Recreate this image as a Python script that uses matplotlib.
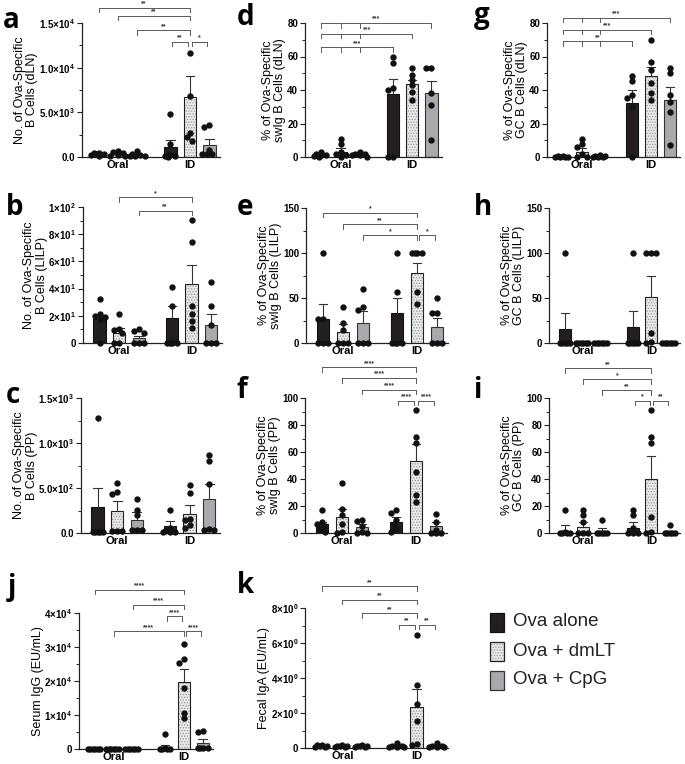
import numpy as np
import matplotlib
matplotlib.use('Agg')
import matplotlib.pyplot as plt
from matplotlib.patches import Rectangle

plt.rcParams['font.family'] = ['Liberation Sans', 'DejaVu Sans']
plt.rcParams['mathtext.fontset'] = 'custom'
plt.rcParams['mathtext.rm'] = 'Liberation Sans'
plt.rcParams['mathtext.bf'] = 'Liberation Sans:bold'
plt.rcParams['mathtext.default'] = 'bf'
plt.rcParams['hatch.linewidth'] = 0.6

# ---------------- data ----------------
groups = ['Oral', 'ID']
treatments = ['Ova alone', 'Ova + dmLT', 'Ova + CpG']

a_mean = [300, 350, 250, 1100, 6700, 1300]
a_sem = [100, 120, 110, 800, 2400, 750]
a_dots = [[100, 300, 500, 400, 200, 300], [100, 600, 400, 200, 700, 100],
          [100, 200, 700, 100, 300, 100], [4800, 1500, 200, 100, 50, 100],
          [11600, 6800, 2700, 1800, 2200], [3600, 3400, 800, 300, 300, 300]]

b_mean = [17.5, 7.5, 3.5, 18.5, 43.5, 13.5]
b_sem = [3.0, 3.5, 2.0, 8.5, 13.5, 8.0]
b_dots = [[32, 21.5, 20, 19, 18, 0], [21.5, 10, 9.5, 7, 0, 0], [10, 8.5, 7.5, 0, 0, 0],
          [41, 27, 0, 0, 0, 0], [90.5, 74, 27, 21, 16, 11], [44.5, 27.5, 13.5, 0, 0, 0]]

c_mean = [285, 240, 140, 75, 215, 375]
c_sem = [215, 115, 90, 55, 95, 170]
c_dots = [[1280, 10, 10, 10, 10, 10], [560, 460, 430, 20, 20, 20], [380, 255, 200, 30, 30, 30],
          [260, 60, 20, 10, 10, 10], [530, 440, 160, 140, 90, 60], [865, 800, 550, 40, 30, 30]]

d_mean = [1.0, 3.0, 1.5, 37.5, 43.5, 38.5]
d_sem = [0.5, 2.5, 0.5, 9.0, 2.5, 7.0]
d_dots = [[0, 1, 2, 3, 1, 0.5], [11, 8, 3, 2, 0, 1], [0, 1, 2, 3, 2, 1],
          [60, 56, 41, 40, 0, 0], [53, 49, 46, 43, 39, 34], [53, 53, 38, 31, 10]]

e_mean = [27, 12, 22, 33.5, 78, 18]
e_sem = [16, 9, 14, 16.5, 11, 10]
e_dots = [[100, 27, 27, 0, 0, 0], [40, 22, 14, 0, 0, 0], [60, 40, 37, 0, 0, 0],
          [100, 57, 0, 0, 0, 0], [100, 100, 100, 100, 57, 43], [50, 33, 33, 0, 0, 0]]

f_mean = [6.5, 12, 4.5, 8.5, 53.5, 5.5]
f_sem = [1.5, 6, 2, 3.5, 12.5, 3]
f_dots = [[17, 8, 7, 5, 3, 1], [37, 18, 13, 7, 1, 0], [10, 9, 5, 1, 0, 0],
          [17, 15, 10, 7, 3, 1], [91, 71, 67, 45, 28, 23], [14, 8, 2, 0, 0, 0]]

g_mean = [0.3, 3.0, 0.5, 32.5, 48.5, 34.0]
g_sem = [0.2, 2.5, 0.2, 7.5, 5.5, 7.5]
g_dots = [[0, 0, 0.3, 0.5, 0, 0.2], [11, 8, 6, 2, 0, 0], [0, 0.5, 0, 1, 0.3, 0],
          [45.5, 48.5, 37, 35, 30, 0], [70, 57, 52, 44, 38, 34], [53, 50, 37, 33, 27, 7]]

h_mean = [16, 0, 0, 18, 51, 0]
h_sem = [17.5, 0, 0, 17.5, 23, 0]
h_dots = [[100, 0, 0, 0, 0, 0], [0, 0, 0, 0, 0, 0], [0, 0, 0, 0, 0, 0],
          [100, 0, 0, 0, 0, 0], [100, 100, 100, 11, 1, 0], [0, 0, 0, 0, 0, 0]]

i_mean = [1, 4.5, 1.5, 4, 40, 0.5]
i_sem = [5, 3.5, 2, 4, 17, 0.5]
i_dots = [[17, 1, 0, 0, 0, 0], [17, 13, 8, 0, 0, 0], [10, 0, 0, 0, 0, 0],
          [17, 13, 4, 0, 0, 0], [91, 71, 67, 12, 1, 0], [6, 0, 0, 0, 0, 0]]

j_mean = [50, 50, 50, 500, 19800, 1700]
j_sem = [20, 20, 20, 800, 3800, 1200]
j_dots = [[50, 50, 50, 50, 50, 50], [50, 50, 50, 50, 50, 50], [60, 60, 60, 60, 60, 60],
          [4300, 200, 100, 100, 100, 100], [30800, 26400, 25300, 17800, 10500, 9100],
          [5400, 5100, 200, 200, 200, 200]]

k_mean = [0.1, 0.1, 0.08, 0.1, 2.35, 0.1]
k_sem = [0.03, 0.03, 0.03, 0.05, 1.05, 0.05]
k_dots = [[0.2, 0.1, 0.1, 0.05, 0.05, 0.15], [0.15, 0.1, 0.05, 0.05, 0.1, 0.1],
          [0.1, 0.1, 0.05, 0.05, 0.15, 0.1], [0.3, 0.1, 0.05, 0.05, 0.1, 0.05],
          [6.45, 3.6, 2.5, 1.55, 0.15, 0.25], [0.3, 0.1, 0.05, 0.05, 0.1, 0.05]]

# y tick values and labels
a_ticks = [0, 5000, 10000, 15000]
a_tlab = ['0.0', '5.0×10$^{3}$', '1.0×10$^{4}$', '1.5×10$^{4}$']
b_ticks = [0, 20, 40, 60, 80, 100]
b_tlab = ['0', '2×10$^{1}$', '4×10$^{1}$', '6×10$^{1}$', '8×10$^{1}$', '1×10$^{2}$']
c_ticks = [0, 500, 1000, 1500]
c_tlab = ['0.0', '5.0×10$^{2}$', '1.0×10$^{3}$', '1.5×10$^{3}$']
pct80_ticks = [0, 20, 40, 60, 80]
pct150_ticks = [0, 50, 100, 150]
pct100_ticks = [0, 20, 40, 60, 80, 100]
j_ticks = [0, 10000, 20000, 30000, 40000]
j_tlab = ['0', '1×10$^{4}$', '2×10$^{4}$', '3×10$^{4}$', '4×10$^{4}$']
k_ticks = [0, 2, 4, 6, 8]
k_tlab = ['0', '2×10$^{0}$', '4×10$^{0}$', '6×10$^{0}$', '8×10$^{0}$']

# significance comparisons (bar i, bar j, label)
a_sig = [(0, 4, '**'), (1, 4, '**'), (2, 4, '**'), (3, 4, '**'), (4, 5, '*')]
b_sig = [(1, 4, '*'), (2, 4, '**')]
d_sig = [(0, 5, '***'), (0, 4, '***'), (0, 3, '***')]
e_sig = [(0, 4, '*'), (1, 4, '**'), (2, 4, '*'), (4, 5, '*')]
f_sig = [(0, 4, '****'), (1, 4, '****'), (2, 4, '****'), (3, 4, '****'), (4, 5, '****')]
g_sig = [(0, 5, '***'), (0, 4, '***'), (0, 3, '**')]
i_sig = [(0, 4, '**'), (1, 4, '*'), (2, 4, '**'), (3, 4, '*'), (4, 5, '**')]
j_sig = [(0, 4, '****'), (2, 4, '****'), (3, 4, '****'), (1, 4, '****'), (4, 5, '****')]
k_sig = [(0, 4, '**'), (1, 4, '**'), (2, 4, '**'), (3, 4, '**'), (4, 5, '**')]

# ---------------- layout ----------------
W, H = 685, 764
fig = plt.figure(figsize=(W / 100, H / 100), dpi=100)

XPOS = [0, 1, 2, 3.7, 4.7, 5.7]
XLIM = (-0.85, 6.25)
BW = 0.64

panels = [
    ('a', (82, 23, 220, 157), a_mean, a_sem, a_dots, a_ticks, a_tlab,
     'No. of Ova-Specific\nB Cells (dLN)', a_sig, [16700, 15800, 14200, 12900, 12900], False),
    ('d', (305, 23, 442, 157), d_mean, d_sem, d_dots, pct80_ticks, None,
     '% of Ova-Specific\nswIg B Cells (dLN)', d_sig, [80, 73.6, 65.6], True),
    ('g', (547, 23, 680, 157), g_mean, g_sem, g_dots, pct80_ticks, None,
     '% of Ova-Specific\nGC B Cells (dLN)', g_sig, [83, 76, 69], True),
    ('b', (83, 207, 222, 343), b_mean, b_sem, b_dots, b_ticks, b_tlab,
     'No. of Ova-Specific\nB Cells (LILP)', b_sig, [107, 97.3], False),
    ('e', (306, 208, 448, 343), e_mean, e_sem, e_dots, pct150_ticks, None,
     '% of Ova-Specific\nswIg B Cells (LILP)', e_sig, [145, 132, 119.5, 119.5], False),
    ('h', (549, 208, 680, 343), h_mean, h_sem, h_dots, pct150_ticks, None,
     '% of Ova-Specific\nGC B Cells (LILP)', [], [], False),
    ('c', (81, 398, 220, 533), c_mean, c_sem, c_dots, c_ticks, c_tlab,
     'No. of Ova-Specific\nB Cells (PP)', [], [], False),
    ('f', (305, 398, 447, 533), f_mean, f_sem, f_dots, pct100_ticks, None,
     '% of Ova-Specific\nswIg B Cells (PP)', f_sig, [122.7, 114.8, 106, 98, 98], False),
    ('i', (549, 398, 680, 533), i_mean, i_sem, i_dots, pct100_ticks, None,
     '% of Ova-Specific\nGC B Cells (PP)', i_sig, [122, 114, 105.7, 98, 98], False),
    ('j', (79, 613, 213, 749), j_mean, j_sem, j_dots, j_ticks, j_tlab,
     'Serum IgG (EU/mL)', j_sig, [46900, 42500, 39000, 34600, 34600], False),
    ('k', (305, 608, 448, 748), k_mean, k_sem, k_dots, k_ticks, k_tlab,
     'Fecal IgA (EU/mL)', k_sig, [9.24, 8.48, 7.71, 7.05, 7.05], False),
]

letters = {'a': (3, 28), 'd': (237, 25), 'g': (474, 23), 'b': (6, 215), 'e': (237, 215),
           'h': (474, 215), 'c': (6, 403), 'f': (237, 398), 'i': (474, 398),
           'j': (8, 595), 'k': (237, 593)}

FACE = ['#231f20', '#e9e9e9', '#a7a9ac']
EDGE = ['#111111', '#222222', '#333333']
LINEC = '#5a5a5a'


def swarm(vals, ypx, xpx, step=2.5, thr=4.5):
    order = sorted(range(len(vals)), key=lambda k: -vals[k])
    placed = []
    res = [0.0] * len(vals)
    cands = [0, -1, 1, -2, 2, -3, 3]
    for k in order:
        y = vals[k] * ypx
        best, bestd = 0.0, -1.0
        chosen = None
        for c in cands:
            x = c * step
            md = min([np.hypot(x - px, y - py) for px, py in placed] + [1e9])
            if md >= thr:
                chosen = x
                break
            if md > bestd:
                best, bestd = x, md
        if chosen is None:
            chosen = best
        placed.append((chosen, y))
        res[k] = chosen / xpx
    return res


def draw_bar(ax, x, h, t):
    if t == 1:
        ax.bar(x, h, BW, color=FACE[1], edgecolor='#9a9a9a', hatch='......', linewidth=0, zorder=2)
        ax.bar(x, h, BW, color='none', edgecolor=EDGE[1], linewidth=0.8, zorder=2.1)
    else:
        ax.bar(x, h, BW, color=FACE[t], edgecolor=EDGE[t], linewidth=0.8, zorder=2)


for key, (l, t, r, b), mean, sem, dots, ticks, tlab, ylabel, sig, levels, grouped in panels:
    ax = fig.add_axes([l / W, 1 - b / H, (r - l) / W, (b - t) / H])
    ymax = ticks[-1]
    ax.set_xlim(*XLIM)
    ax.set_ylim(0, ymax)
    xpx = (r - l) / (XLIM[1] - XLIM[0])
    ypx = (b - t) / ymax
    for s in ['top', 'right']:
        ax.spines[s].set_visible(False)
    for s in ['left', 'bottom']:
        ax.spines[s].set_linewidth(0.9)
        ax.spines[s].set_color('#222222')
    for n in range(6):
        tt = n % 3
        draw_bar(ax, XPOS[n], mean[n], tt)
        top = mean[n] + sem[n]
        ax.plot([XPOS[n], XPOS[n]], [mean[n], top], color='#333333', lw=0.8, zorder=2.5,
                solid_capstyle='butt')
        ax.plot([XPOS[n] - 0.22, XPOS[n] + 0.22], [top, top], color='#333333', lw=0.8, zorder=2.5)
        offs = swarm(dots[n], ypx, xpx)
        ax.scatter([XPOS[n] + o for o in offs], dots[n], s=21, color='#111111',
                   zorder=4, clip_on=False, linewidths=0)
    ax.set_yticks(ticks)
    if tlab is not None:
        ax.set_yticklabels(tlab)
    else:
        ax.set_yticklabels([str(v) for v in ticks])
    step = ticks[1] - ticks[0]
    ax.set_yticks([v + step / 2 for v in ticks[:-1]], minor=True)
    ax.tick_params(axis='y', which='major', length=3.5, width=0.8, labelsize=7, pad=1.5,
                   color='#222222')
    ax.tick_params(axis='y', which='minor', length=2, width=0.7, color='#222222')
    for lab in ax.get_yticklabels():
        lab.set_fontweight('bold')
    ax.set_xticks([1, 4.7])
    ax.set_xticklabels(groups, fontsize=8, fontweight='bold')
    ax.tick_params(axis='x', length=0, pad=2)
    ax.set_ylabel(ylabel, fontsize=9, linespacing=1.05, labelpad=0.5)
    tick_len = 4.5 / ypx
    for (i0, i1, lab), lev in zip(sig, levels):
        x0, x1 = XPOS[i0], XPOS[i1]
        if i1 - i0 == 1:
            x0 += 0.1
            x1 -= 0.1
        ax.plot([x0, x1], [lev, lev], color=LINEC, lw=0.7, clip_on=False, zorder=5)
        tx = [x0, x1]
        if grouped:
            tx = [XPOS[0], XPOS[1], XPOS[2], x1]
        for xx in tx:
            ax.plot([xx, xx], [lev, lev - tick_len], color=LINEC, lw=0.7, clip_on=False, zorder=5)
        ax.text((x0 + x1) / 2, lev + 0.3 / ypx, lab, ha='center', va='bottom', fontsize=5,
                color='#333333', fontweight='bold', clip_on=False)

ov = fig.add_axes([0, 0, 1, 1], zorder=-1)
ov.set_xlim(0, W)
ov.set_ylim(H, 0)
ov.axis('off')
for k, (x, y) in letters.items():
    ov.text(x, y, k, fontsize=20, fontweight='bold', ha='left', va='baseline',
            family=['Open Sans', 'DejaVu Sans'])

leg_y = [622, 651, 680]
for n, name in enumerate(treatments):
    yy = leg_y[n]
    if n == 1:
        ov.add_patch(Rectangle((490, yy - 9.5), 14, 19, facecolor=FACE[1], edgecolor='#9a9a9a',
                               hatch='......', linewidth=0))
        ov.add_patch(Rectangle((490, yy - 9.5), 14, 19, facecolor='none', edgecolor=EDGE[1],
                               linewidth=0.9))
    else:
        ov.add_patch(Rectangle((490, yy - 9.5), 14, 19, facecolor=FACE[n], edgecolor=EDGE[n],
                               linewidth=0.9))
    ov.text(513, yy, name, fontsize=13.5, ha='left', va='center', color='#222222')

fig.savefig('out.png', dpi=100)
